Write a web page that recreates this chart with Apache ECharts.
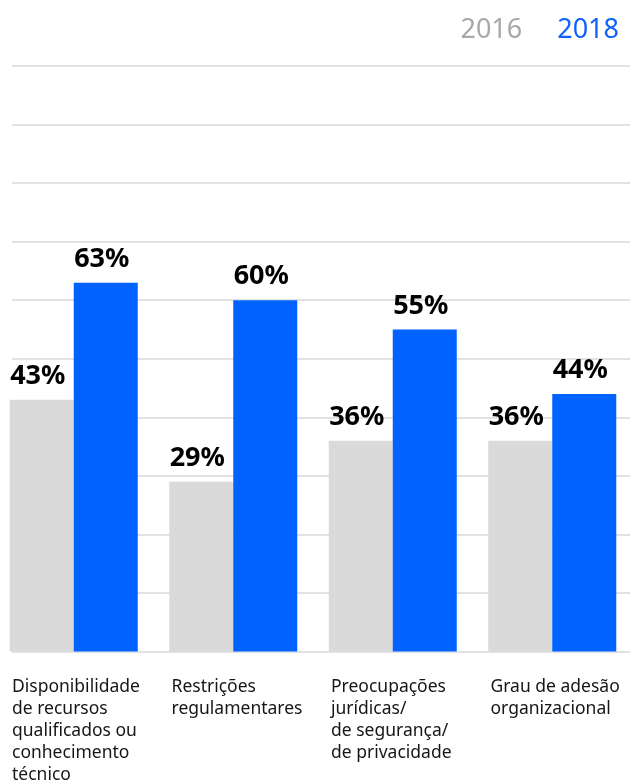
<!DOCTYPE html>
<html>
<head>
<meta charset="utf-8">
<script src="https://cdn.jsdelivr.net/npm/echarts@6/dist/echarts.min.js"></script>
<style>html,body{margin:0;padding:0;background:#fff;}#c{width:630px;height:781px;}</style>
</head>
<body>
<div id="c"></div>
<script>
const categories = [
  'Disponibilidade\nde recursos\nqualificados ou\nconhecimento\ntécnico',
  'Restrições\nregulamentares',
  'Preocupações\njurídicas/\nde segurança/\nde privacidade',
  'Grau de adesão\norganizacional'
];
const seriesNames = ['2016', '2018'];
const values2016 = [43, 29, 36, 36];
const values2018 = [63, 60, 55, 44];
const yTicks = [0, 10, 20, 30, 40, 50, 60, 70, 80, 90, 100];

const chart = echarts.init(document.getElementById('c'), null, {renderer: 'canvas'});
const font = 'Noto Sans';
const labelStyle = {
  show: true, position: 'top', distance: 10, offset: [-4, 0],
  formatter: '{c}%', color: '#000', fontFamily: font, fontWeight: 700, fontSize: 27
};
chart.setOption({
  animation: false,
  backgroundColor: '#fff',
  legend: {
    right: 6, top: 12, icon: 'none', itemWidth: 0, itemHeight: 0, itemGap: 30,
    selectedMode: false,
    textStyle: {fontFamily: font, fontSize: 27},
    data: [
      {name: seriesNames[0], textStyle: {color: '#a8a8a8'}},
      {name: seriesNames[1], textStyle: {color: '#0f62fe'}}
    ]
  },
  grid: [
    {left: -6, width: 638, top: 66, bottom: 129.4, outerBoundsMode: 'none', containLabel: false},
    {left: 12, width: 638, top: 66, bottom: 129.4, outerBoundsMode: 'none', containLabel: false}
  ],
  xAxis: [
    {type: 'category', gridIndex: 0, data: categories, show: false},
    {type: 'category', gridIndex: 1, data: categories.concat(['']), boundaryGap: false,
     axisLine: {show: false}, axisTick: {show: false}, splitLine: {show: false},
     axisLabel: {interval: 0, align: 'left', verticalAlign: 'top', margin: 24,
       fontFamily: font, fontSize: 17.5, lineHeight: 22, color: '#161616'}}
  ],
  yAxis: [
    {type: 'value', gridIndex: 0, min: 0, max: 100, interval: 10, show: false},
    {type: 'value', gridIndex: 1, min: yTicks[0], max: yTicks[yTicks.length - 1], interval: 10,
     axisLabel: {show: false}, axisLine: {show: false}, axisTick: {show: false},
     splitLine: {show: true, lineStyle: {color: '#e2e2e2', width: 2}}}
  ],
  series: [
    {name: seriesNames[0], type: 'bar', xAxisIndex: 0, yAxisIndex: 0, data: values2016,
     barWidth: 64, barGap: '0%', itemStyle: {color: '#dadada'}, label: labelStyle, z: 3},
    {name: seriesNames[1], type: 'bar', xAxisIndex: 0, yAxisIndex: 0, data: values2018,
     barWidth: 64, barGap: '0%', itemStyle: {color: '#0062ff'}, label: labelStyle, z: 3}
  ]
});
</script>
</body>
</html>
